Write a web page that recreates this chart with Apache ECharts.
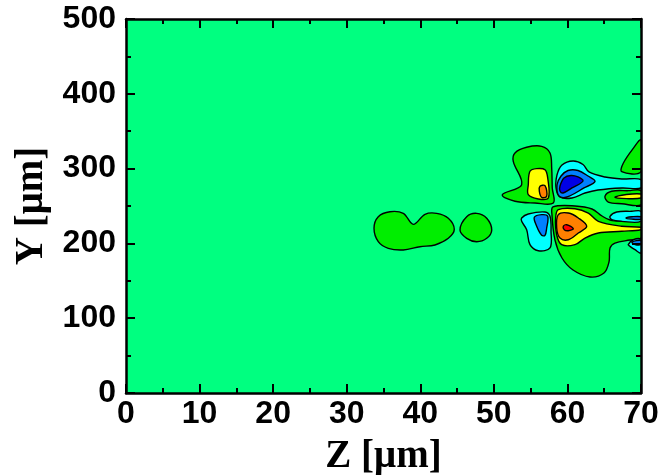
<!DOCTYPE html>
<html>
<head>
<meta charset="utf-8">
<script src="https://cdn.jsdelivr.net/npm/echarts@6/dist/echarts.min.js"></script>
<style>
  html, body { margin: 0; padding: 0; background: #fff; }
  #chart { width: 661px; height: 475px; }
</style>
</head>
<body>
<div id="chart"></div>
<script>
// axis ranges
const zRange = [0, 70]
const yRange = [0, 500]

// contour outlines, points are [Z µm, Y µm]
const blobA = [[33.71, 220.2], [34.29, 235.7], [35.88, 242.4], [37.69, 240.2], [39.05, 225.5], [40.64, 238.9], [42.23, 240.2], [43.81, 233.6], [44.62, 218.9], [43.81, 206.8], [42.0, 197.9], [39.96, 195.6], [37.69, 191.2], [35.65, 193.4], [34.29, 202.3]]
const blobB = [[45.4, 217.9], [46.31, 235.7], [47.67, 240.2], [49.03, 233.6], [49.71, 217.9], [49.03, 206.8], [47.67, 202.3], [46.31, 206.8]]
const upperGreen = [[51.15, 265.1], [53.78, 278.5], [52.64, 309.8], [52.87, 320.9], [54.46, 328.5], [56.5, 329.8], [57.63, 320.9], [57.86, 300.8], [57.94, 274.1], [58.08, 254.0], [55.59, 254.0], [52.87, 256.3]]
const upperYellow = [[54.91, 296.4], [55.82, 299.9], [56.95, 298.5], [57.32, 287.4], [57.4, 260.7], [56.04, 259.4], [54.68, 265.1], [54.68, 278.5]]
const upperOrange = [[56.27, 276.3], [56.95, 277.1], [57.18, 263.0], [56.5, 261.6], [56.18, 269.7]]
const leftCyan = [[53.78, 234.0], [54.68, 239.3], [56.95, 242.0], [57.63, 236.2], [57.77, 216.2], [57.63, 193.9], [56.04, 190.2], [54.91, 198.3], [54.46, 218.3], [53.78, 229.5]]
const leftBlue = [[55.5, 234.9], [56.5, 238.4], [57.32, 236.2], [57.18, 220.6], [56.95, 210.8], [56.5, 210.8], [55.82, 222.9]]
const upperCyan = [[58.45, 274.1], [58.58, 291.4], [59.26, 304.8], [60.76, 310.2], [62.12, 305.5], [62.93, 295.5], [65.11, 288.8], [67.42, 286.1], [70, 285.4], [70, 274.1], [67.42, 274.1], [64.15, 271.4], [62.39, 267.4], [60.62, 260.7], [58.99, 262.0]]
const upperBlue = [[58.58, 278.1], [59.13, 290.1], [60.08, 297.5], [61.44, 297.5], [62.8, 290.1], [63.75, 282.8], [62.25, 274.1], [59.94, 262.0], [58.85, 263.4]]
const upperNavy = [[58.99, 276.7], [59.53, 287.4], [60.48, 290.8], [61.44, 288.8], [62.12, 283.4], [60.62, 274.1], [59.4, 267.4], [58.99, 270.1]]
const stripeGreen = [[65.11, 263.0], [66.02, 269.7], [68.27, 270.5], [70, 270.5], [70, 251.7], [67.38, 253.1], [65.55, 255.3]]
const stripeYellow = [[66.46, 261.6], [67.82, 265.1], [70, 266.0], [70, 260.7], [68.06, 259.8]]
const cornerGreen = [[70, 338.2], [68.95, 327.1], [67.59, 307.1], [67.38, 295.9], [70, 295.9]]
const lowerGreen = [[58.04, 248.7], [61.03, 250.0], [63.34, 246.0], [64.7, 236.6], [65.79, 231.3], [67.82, 229.9], [70, 229.9], [70, 207.2], [68.5, 204.5], [66.46, 200.5], [65.79, 193.9], [65.65, 175.1], [64.97, 160.4], [63.07, 155.1], [60.76, 164.4], [59.26, 180.5], [58.31, 204.5], [57.9, 238.0]]
const lowerYellow = [[58.76, 245.1], [61.03, 246.4], [62.84, 240.6], [64.2, 229.5], [67.38, 222.9], [70, 221.5], [70, 218.3], [67.38, 216.2], [64.2, 213.9], [62.39, 207.2], [61.03, 198.3], [59.22, 198.3], [58.54, 211.6], [58.4, 234.0]]
const lowerOrange = [[58.76, 238.4], [60.12, 240.6], [61.48, 234.0], [62.62, 222.9], [61.48, 213.9], [60.12, 204.9], [58.99, 207.2], [58.54, 220.6]]
const lowerRed = [[59.44, 222.9], [59.9, 225.0], [60.8, 219.7], [60.12, 217.0], [59.57, 218.3]]
const stripeCyan = [[65.79, 236.2], [66.7, 242.0], [68.73, 242.9], [70, 242.9], [70, 229.5], [67.38, 229.5], [66.02, 231.7]]
const stripeBlue = [[67.96, 234.0], [68.78, 235.6], [70, 235.6], [70, 232.4], [68.78, 232.4]]
const cornerCyan = [[68.27, 198.3], [68.95, 204.9], [70, 204.9], [70, 187.2], [69.18, 191.6], [68.5, 196.1]]
const cornerBlue = [[68.78, 201.9], [70, 203.9], [70, 198.5], [69.18, 198.5]]

// drawing order (outer levels first) and the level of each outline
const layers = [
  [lowerGreen, 'green'], [upperGreen, 'green'], [blobA, 'green'], [blobB, 'green'],
  [stripeGreen, 'green'], [cornerGreen, 'green'],
  [upperCyan, 'cyan'], [upperBlue, 'blue'], [upperNavy, 'navy'],
  [stripeYellow, 'yellow'], [upperYellow, 'yellow'], [upperOrange, 'orange'],
  [leftCyan, 'cyan'], [leftBlue, 'blue'],
  [lowerYellow, 'yellow'], [lowerOrange, 'orange'], [lowerRed, 'red'],
  [stripeCyan, 'cyan'], [stripeBlue, 'blue'], [cornerCyan, 'cyan'], [cornerBlue, 'blue'],
]

const levelColors = {
  green: '#00ee00',
  cyan: '#00ffff',
  blue: '#0080ff',
  navy: '#0000e6',
  yellow: '#ffff00',
  orange: '#ff8000',
  red: '#ff0000',
}

const chart = echarts.init(document.getElementById('chart'))

const tickFont = { fontFamily: 'Liberation Sans', fontWeight: 'bold', fontSize: 32, color: '#000' }
const nameFont = { fontFamily: 'Liberation Serif', fontWeight: 'bold', fontSize: 39, color: '#000' }

const frame = {
  type: 'value',
  z: 10,
  axisLine: { show: true, onZero: false, lineStyle: { color: '#000', width: 2.5 } },
  axisTick: { show: true, inside: true, length: 9, lineStyle: { color: '#000', width: 2 } },
  minorTick: { show: true, splitNumber: 2, length: 5, lineStyle: { color: '#000', width: 2 } },
  splitLine: { show: false },
}

chart.setOption({
  animation: false,
  backgroundColor: '#fff',
  grid: {
    left: 126, right: 20, top: 19, bottom: 82,
    outerBoundsMode: 'none', containLabel: false,
    show: true, backgroundColor: '#00ff80', borderWidth: 0,
  },
  xAxis: [
    {
      ...frame, position: 'bottom', min: zRange[0], max: zRange[1], interval: 10,
      axisLabel: { ...tickFont, margin: 5 },
      name: 'Z [μm]', nameLocation: 'middle', nameGap: 44, nameTextStyle: nameFont,
    },
    {
      ...frame, position: 'top', min: zRange[0], max: zRange[1], interval: 10,
      axisLabel: { show: false },
    },
  ],
  yAxis: [
    {
      ...frame, position: 'left', min: yRange[0], max: yRange[1], interval: 100,
      axisLabel: { ...tickFont, margin: 10 },
      name: 'Y [μm]', nameLocation: 'middle', nameGap: 74, nameRotate: 90, nameTextStyle: nameFont,
    },
    {
      ...frame, position: 'right', min: yRange[0], max: yRange[1], interval: 100,
      axisLabel: { show: false },
    },
  ],
  series: [
    {
      type: 'custom',
      clip: true,
      silent: true,
      data: layers.map((l, i) => [i, 0]),
      renderItem(params, api) {
        const [pts, level] = layers[params.dataIndex]
        return {
          type: 'polygon',
          shape: { points: pts.map((p) => api.coord(p)), smooth: 0.35 },
          style: { fill: levelColors[level], stroke: '#000', lineWidth: 1.4 },
        }
      },
    },
  ],
})
</script>
</body>
</html>
